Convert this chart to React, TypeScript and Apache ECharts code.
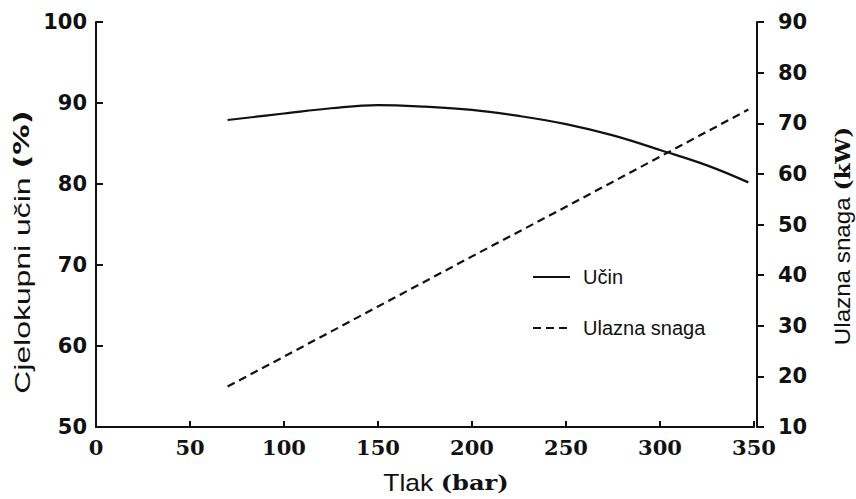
import React, { useEffect, useRef } from "react";
import * as echarts from "echarts";

const xTicks = [0, 50, 100, 150, 200, 250, 300, 350];
const ucinX = [70, 100, 125, 150, 175, 200, 225, 250, 275, 300, 325, 347];
const ucinY = [87.9, 88.7, 89.35, 89.75, 89.55, 89.15, 88.4, 87.4, 86.0, 84.2, 82.3, 80.2];
const snagaX = [70, 100, 150, 200, 250, 300, 347];
const snagaY = [18.0, 23.9, 33.8, 43.7, 53.5, 63.4, 72.7];
const leftName = "Cjelokupni učin";
const rightName = "Ulazna snaga";
const xName = "Tlak";

export default function App() {
  const ref = useRef<HTMLDivElement>(null);
  useEffect(() => {
    if (!ref.current) return;
    const chart = echarts.init(ref.current, undefined, { renderer: "svg" });
    const sans = "'Liberation Sans', Arial, sans-serif";
    const boldSans = "'DejaVu Sans', sans-serif";
    const boldSerif = "'DejaVu Serif', serif";
    chart.setOption({
      animation: false,
      backgroundColor: "#ffffff",
      grid: { left: 96, right: 102, top: 22, bottom: 72 },
      xAxis: {
        type: "value",
        min: 0,
        max: 350,
        interval: 50,
        axisLine: { show: true, lineStyle: { color: "#111", width: 2 } },
        axisTick: { show: true, inside: true, length: 6, lineStyle: { color: "#111", width: 2 } },
        axisLabel: {
          color: "#111",
          fontFamily: boldSerif,
          fontWeight: "bold",
          fontSize: 21,
          margin: 10,
          formatter: (v: number) => (xTicks.includes(v) ? String(v) : ""),
        },
        splitLine: { show: false },
      },
      yAxis: [
        {
          type: "value",
          position: "left",
          min: 50,
          max: 100,
          interval: 10,
          axisLine: { show: true, lineStyle: { color: "#111", width: 2 } },
          axisTick: { show: true, inside: true, length: 7, lineStyle: { color: "#111", width: 2 } },
          axisLabel: { color: "#111", fontFamily: boldSans, fontWeight: "bold", fontSize: 21, margin: 9 },
          splitLine: { show: false },
        },
        {
          type: "value",
          position: "right",
          min: 10,
          max: 90,
          interval: 10,
          offset: 3,
          axisLine: { show: true, lineStyle: { color: "#111", width: 2 } },
          axisTick: { show: true, inside: false, length: 7, lineStyle: { color: "#111", width: 2 } },
          axisLabel: { color: "#111", fontFamily: boldSans, fontWeight: "bold", fontSize: 21, margin: 21 },
          splitLine: { show: false },
        },
      ],
      legend: {
        orient: "vertical",
        left: 527,
        top: 262,
        itemWidth: 37,
        itemHeight: 12,
        itemGap: 31,
        itemStyle: { opacity: 0 },
        textStyle: { color: "#111", fontFamily: sans, fontSize: 20, padding: [0, 0, 0, 8] },
        data: ["Učin", "Ulazna snaga"],
      },
      series: [
        {
          name: "Učin",
          type: "line",
          yAxisIndex: 0,
          smooth: 0.4,
          symbol: "none",
          lineStyle: { color: "#111", width: 2.2 },
          itemStyle: { color: "#111" },
          data: ucinX.map((x, i) => [x, ucinY[i]]),
        },
        {
          name: "Ulazna snaga",
          type: "line",
          yAxisIndex: 1,
          symbol: "none",
          lineStyle: { color: "#111", width: 2.2, type: [8, 5] },
          itemStyle: { color: "#111" },
          data: snagaX.map((x, i) => [x, snagaY[i]]),
        },
      ],
      graphic: [
        {
          type: "text",
          x: 22,
          y: 252,
          rotation: Math.PI / 2,
          scaleX: 1.45,
          style: {
            text: `{a|${leftName} }{b|(%)}`,
            align: "center",
            verticalAlign: "middle",
            fill: "#111",
            rich: {
              a: { fontFamily: sans, fontSize: 22, fill: "#111" },
              b: { fontFamily: boldSans, fontWeight: "bold", fontSize: 21, fill: "#111" },
            },
          },
        },
        {
          type: "text",
          x: 842,
          y: 236,
          rotation: Math.PI / 2,
          scaleX: 1.1,
          style: {
            text: `{a|${rightName} }{b|(kW)}`,
            align: "center",
            verticalAlign: "middle",
            fill: "#111",
            rich: {
              a: { fontFamily: sans, fontSize: 22, fill: "#111" },
              b: { fontFamily: boldSerif, fontWeight: "bold", fontSize: 21, fill: "#111" },
            },
          },
        },
        {
          type: "text",
          x: 446,
          y: 483,
          scaleX: 1.15,
          style: {
            text: `{a|${xName} }{b|(bar)}`,
            align: "center",
            verticalAlign: "middle",
            fill: "#111",
            rich: {
              a: { fontFamily: sans, fontSize: 23, fill: "#111" },
              b: { fontFamily: boldSerif, fontWeight: "bold", fontSize: 21, fill: "#111" },
            },
          },
        },
      ],
    });
    return () => chart.dispose();
  }, []);
  return <div ref={ref} style={{ position: "fixed", left: 0, top: 0, width: 856, height: 499 }} />;
}
